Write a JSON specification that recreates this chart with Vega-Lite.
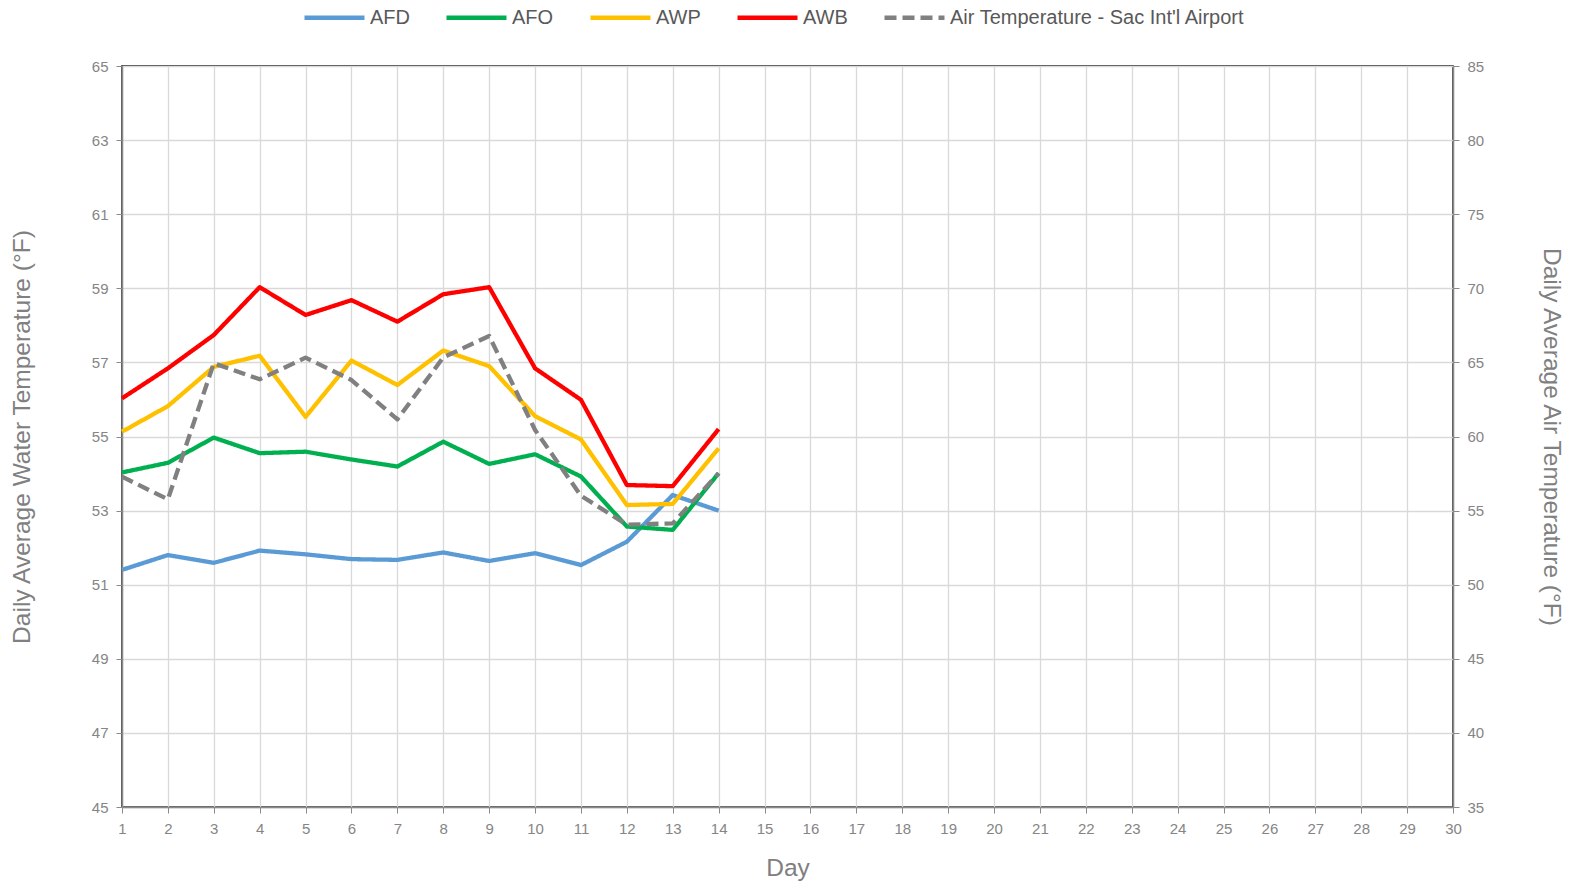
{
  "$schema": "https://vega.github.io/schema/vega-lite/v6.json",
  "autosize": "none",
  "width": 1331,
  "height": 741,
  "padding": {"left": 122, "top": 66, "right": 118, "bottom": 82},
  "background": "white",
  "config": {
    "font": "Liberation Sans",
    "view": {"stroke": "#000000", "strokeWidth": 1.5},
    "axis": {
      "labelFont": "Liberation Sans",
      "titleFont": "Liberation Sans",
      "labelFontSize": 15,
      "labelColor": "#858585",
      "titleColor": "#808080",
      "titleFontSize": 24.5,
      "titleFontWeight": "normal",
      "domainColor": "#8a8a8a",
      "domainWidth": 1.5,
      "tickColor": "#8a8a8a",
      "tickSize": 6,
      "gridColor": "#d9d9d9",
      "gridWidth": 1.3
    },
    "legend": {"labelFont": "Liberation Sans"}
  },
  "datasets": {
    "water": [
      {"day": 1, "series": "AFD", "temp": 51.40},
      {"day": 2, "series": "AFD", "temp": 51.80},
      {"day": 3, "series": "AFD", "temp": 51.59},
      {"day": 4, "series": "AFD", "temp": 51.92},
      {"day": 5, "series": "AFD", "temp": 51.82},
      {"day": 6, "series": "AFD", "temp": 51.69},
      {"day": 7, "series": "AFD", "temp": 51.67},
      {"day": 8, "series": "AFD", "temp": 51.87},
      {"day": 9, "series": "AFD", "temp": 51.64},
      {"day": 10, "series": "AFD", "temp": 51.85},
      {"day": 11, "series": "AFD", "temp": 51.53},
      {"day": 12, "series": "AFD", "temp": 52.16},
      {"day": 13, "series": "AFD", "temp": 53.42},
      {"day": 14, "series": "AFD", "temp": 53.00},
      {"day": 1, "series": "AFO", "temp": 54.03},
      {"day": 2, "series": "AFO", "temp": 54.29},
      {"day": 3, "series": "AFO", "temp": 54.97},
      {"day": 4, "series": "AFO", "temp": 54.55},
      {"day": 5, "series": "AFO", "temp": 54.59},
      {"day": 6, "series": "AFO", "temp": 54.38},
      {"day": 7, "series": "AFO", "temp": 54.19},
      {"day": 8, "series": "AFO", "temp": 54.86},
      {"day": 9, "series": "AFO", "temp": 54.26},
      {"day": 10, "series": "AFO", "temp": 54.52},
      {"day": 11, "series": "AFO", "temp": 53.92},
      {"day": 12, "series": "AFO", "temp": 52.57},
      {"day": 13, "series": "AFO", "temp": 52.48},
      {"day": 14, "series": "AFO", "temp": 54.01},
      {"day": 1, "series": "AWP", "temp": 55.13},
      {"day": 2, "series": "AWP", "temp": 55.82},
      {"day": 3, "series": "AWP", "temp": 56.88},
      {"day": 4, "series": "AWP", "temp": 57.18},
      {"day": 5, "series": "AWP", "temp": 55.53},
      {"day": 6, "series": "AWP", "temp": 57.05},
      {"day": 7, "series": "AWP", "temp": 56.39},
      {"day": 8, "series": "AWP", "temp": 57.32},
      {"day": 9, "series": "AWP", "temp": 56.90},
      {"day": 10, "series": "AWP", "temp": 55.55},
      {"day": 11, "series": "AWP", "temp": 54.92},
      {"day": 12, "series": "AWP", "temp": 53.15},
      {"day": 13, "series": "AWP", "temp": 53.18},
      {"day": 14, "series": "AWP", "temp": 54.68},
      {"day": 1, "series": "AWB", "temp": 56.03},
      {"day": 2, "series": "AWB", "temp": 56.84},
      {"day": 3, "series": "AWB", "temp": 57.74},
      {"day": 4, "series": "AWB", "temp": 59.03},
      {"day": 5, "series": "AWB", "temp": 58.28},
      {"day": 6, "series": "AWB", "temp": 58.68},
      {"day": 7, "series": "AWB", "temp": 58.10},
      {"day": 8, "series": "AWB", "temp": 58.84},
      {"day": 9, "series": "AWB", "temp": 59.03},
      {"day": 10, "series": "AWB", "temp": 56.84},
      {"day": 11, "series": "AWB", "temp": 55.99},
      {"day": 12, "series": "AWB", "temp": 53.69},
      {"day": 13, "series": "AWB", "temp": 53.66},
      {"day": 14, "series": "AWB", "temp": 55.20}
    ],
    "air": [
      {"day": 1, "series": "Air Temperature - Sac Int'l Airport", "temp": 57.29},
      {"day": 2, "series": "Air Temperature - Sac Int'l Airport", "temp": 55.76},
      {"day": 3, "series": "Air Temperature - Sac Int'l Airport", "temp": 64.94},
      {"day": 4, "series": "Air Temperature - Sac Int'l Airport", "temp": 63.86},
      {"day": 5, "series": "Air Temperature - Sac Int'l Airport", "temp": 65.32},
      {"day": 6, "series": "Air Temperature - Sac Int'l Airport", "temp": 63.81},
      {"day": 7, "series": "Air Temperature - Sac Int'l Airport", "temp": 61.16},
      {"day": 8, "series": "Air Temperature - Sac Int'l Airport", "temp": 65.34},
      {"day": 9, "series": "Air Temperature - Sac Int'l Airport", "temp": 66.78},
      {"day": 10, "series": "Air Temperature - Sac Int'l Airport", "temp": 60.44},
      {"day": 11, "series": "Air Temperature - Sac Int'l Airport", "temp": 56.0},
      {"day": 12, "series": "Air Temperature - Sac Int'l Airport", "temp": 54.05},
      {"day": 13, "series": "Air Temperature - Sac Int'l Airport", "temp": 54.14},
      {"day": 14, "series": "Air Temperature - Sac Int'l Airport", "temp": 57.52}
    ]
  },
  "encoding": {
    "x": {
      "field": "day",
      "type": "quantitative",
      "scale": {"domain": [1, 30], "nice": false, "zero": false},
      "axis": {
        "title": "Day",
        "values": [1,2,3,4,5,6,7,8,9,10,11,12,13,14,15,16,17,18,19,20,21,22,23,24,25,26,27,28,29,30],
        "format": "d",
        "labelFlush": false,
        "labelPadding": 8,
        "titlePadding": 20
      }
    },
    "color": {
      "field": "series",
      "type": "nominal",
      "scale": {
        "domain": ["AFD", "AFO", "AWP", "AWB", "Air Temperature - Sac Int'l Airport"],
        "range": ["#5b9bd5", "#00b050", "#ffc000", "#ff0000", "#808080"]
      },
      "legend": {
        "title": null,
        "orient": "none",
        "direction": "horizontal",
        "legendX": 180,
        "legendY": -81,
        "symbolType": "stroke",
        "symbolSize": 3600,
        "symbolStrokeWidth": 4.5,
        "labelFontSize": 20,
        "labelColor": "#595959",
        "labelOffset": 3,
        "labelLimit": 0,
        "columnPadding": 27
      }
    },
    "strokeDash": {
      "field": "series",
      "type": "nominal",
      "scale": {
        "domain": ["AFD", "AFO", "AWP", "AWB", "Air Temperature - Sac Int'l Airport"],
        "range": [[1, 0], [1, 0], [1, 0], [1, 0], [12, 6]]
      },
      "legend": {
        "title": null,
        "orient": "none",
        "direction": "horizontal",
        "legendX": 180,
        "legendY": -81,
        "symbolType": "stroke",
        "symbolSize": 3600,
        "symbolStrokeWidth": 4.5,
        "labelFontSize": 20,
        "labelColor": "#595959",
        "labelOffset": 3,
        "labelLimit": 0,
        "columnPadding": 27
      }
    }
  },
  "layer": [
    {
      "data": {"name": "water"},
      "mark": {"type": "line", "strokeWidth": 4.3, "strokeJoin": "round"},
      "encoding": {
        "y": {
          "field": "temp",
          "type": "quantitative",
          "scale": {"domain": [45, 65], "nice": false, "zero": false},
          "axis": {
            "title": "Daily Average Water Temperature (°F)",
            "orient": "left",
            "values": [45,47,49,51,53,55,57,59,61,63,65],
            "labelPadding": 8,
            "titlePadding": 57
          }
        }
      }
    },
    {
      "data": {"name": "air"},
      "mark": {"type": "line", "strokeWidth": 4.3, "strokeJoin": "round"},
      "encoding": {
        "y": {
          "field": "temp",
          "type": "quantitative",
          "scale": {"domain": [35, 85], "nice": false, "zero": false},
          "axis": {
            "title": "Daily Average Air Temperature (°F)",
            "orient": "right",
            "values": [35,40,45,50,55,60,65,70,75,80,85],
            "grid": false,
            "labelPadding": 8,
            "titlePadding": 55
          }
        }
      }
    }
  ],
  "resolve": {"scale": {"y": "independent", "color": "shared", "strokeDash": "shared"}}
}
